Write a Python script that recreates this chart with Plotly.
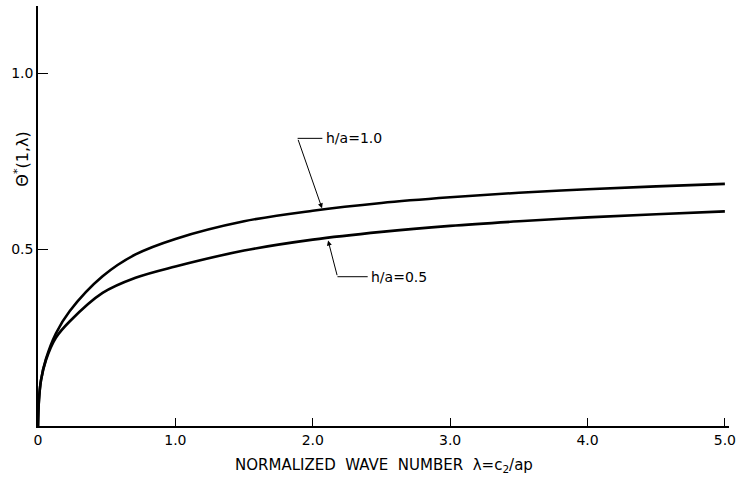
import plotly.graph_objects as go

# Normalized wave number lambda
lam = [0, 0.007, 0.022, 0.058, 0.13, 0.23, 0.47, 0.71, 1.0, 1.5, 2.0, 2.5, 3.0, 3.5, 4.0, 4.5, 5.0]
# Theta*(1, lambda) for h/a = 1.0
theta_h10 = [0, 0.074, 0.13, 0.19, 0.262, 0.325, 0.424, 0.486, 0.53, 0.58, 0.61, 0.632, 0.648, 0.661, 0.671, 0.679, 0.686]
# Theta*(1, lambda) for h/a = 0.5
theta_h05 = [0, 0.074, 0.13, 0.187, 0.25, 0.296, 0.377, 0.42, 0.452, 0.497, 0.528, 0.55, 0.567, 0.58, 0.591, 0.6, 0.608]

x_tickvals = [0, 1, 2, 3, 4, 5]
x_ticktext = ["0", "1.0", "2.0", "3.0", "4.0", "5.0"]
y_tickvals = [0.5, 1.0]
y_ticktext = ["0.5", "1.0"]

font_family = "DejaVu Sans, Liberation Sans, sans-serif"

fig = go.Figure()
for ys in (theta_h10, theta_h05):
    fig.add_trace(go.Scatter(x=lam, y=ys, mode="lines",
                             line=dict(color="black", width=2.6, shape="spline", smoothing=1.0),
                             showlegend=False, hoverinfo="skip"))

# Leader lines and labels
fig.add_annotation(x=2.07, y=0.614, ax=1.89, ay=0.815, axref="x", ayref="y",
                   xref="x", yref="y", text="", showarrow=True, arrowhead=2,
                   arrowsize=1, arrowwidth=1, arrowcolor="black", standoff=1)
fig.add_shape(type="line", x0=1.89, y0=0.815, x1=2.07, y1=0.815,
              xref="x", yref="y", line=dict(color="black", width=1))
fig.add_annotation(x=2.08, y=0.815, xref="x", yref="y", text="h/a=1.0",
                   showarrow=False, xanchor="left", yanchor="middle",
                   font=dict(family=font_family, size=14, color="black"))

fig.add_annotation(x=2.11, y=0.528, ax=2.18, ay=0.423, axref="x", ayref="y",
                   xref="x", yref="y", text="", showarrow=True, arrowhead=2,
                   arrowsize=1, arrowwidth=1, arrowcolor="black", standoff=1)
fig.add_shape(type="line", x0=2.18, y0=0.423, x1=2.40, y1=0.423,
              xref="x", yref="y", line=dict(color="black", width=1))
fig.add_annotation(x=2.41, y=0.423, xref="x", yref="y", text="h/a=0.5",
                   showarrow=False, xanchor="left", yanchor="middle",
                   font=dict(family=font_family, size=14, color="black"))

# Axis titles
fig.add_annotation(x=0.5, y=-0.095, xref="paper", yref="paper",
                   text="NORMALIZED  WAVE  NUMBER  λ=c<sub>2</sub>/ap",
                   showarrow=False, xanchor="center", yanchor="middle",
                   font=dict(family=font_family, size=15, color="black"))
fig.add_annotation(x=-0.024, y=0.635, xref="paper", yref="paper",
                   text="Θ<sup>*</sup>(1,λ)", textangle=-90,
                   showarrow=False, xanchor="center", yanchor="middle",
                   font=dict(family=font_family, size=16, color="black"))

fig.update_layout(
    width=738, height=482,
    margin=dict(l=38, r=9, t=6, b=56),
    paper_bgcolor="white", plot_bgcolor="white",
    font=dict(family=font_family, color="black"),
    xaxis=dict(range=[0, 5.03], tickvals=x_tickvals, ticktext=x_ticktext,
               showgrid=False, zeroline=False, showline=True, linecolor="black",
               linewidth=1.5, ticks="inside", ticklen=8, tickcolor="black",
               tickfont=dict(size=14), automargin=False, fixedrange=True),
    yaxis=dict(range=[0, 1.19], tickvals=y_tickvals, ticktext=y_ticktext,
               showgrid=False, zeroline=False, showline=True, linecolor="black",
               linewidth=1.5, ticks="inside", ticklen=10, tickcolor="black",
               tickfont=dict(size=14), automargin=False, fixedrange=True),
)

fig.write_html("out.html", post_script="document.body.style.margin='0';",
               config={"displayModeBar": False})
